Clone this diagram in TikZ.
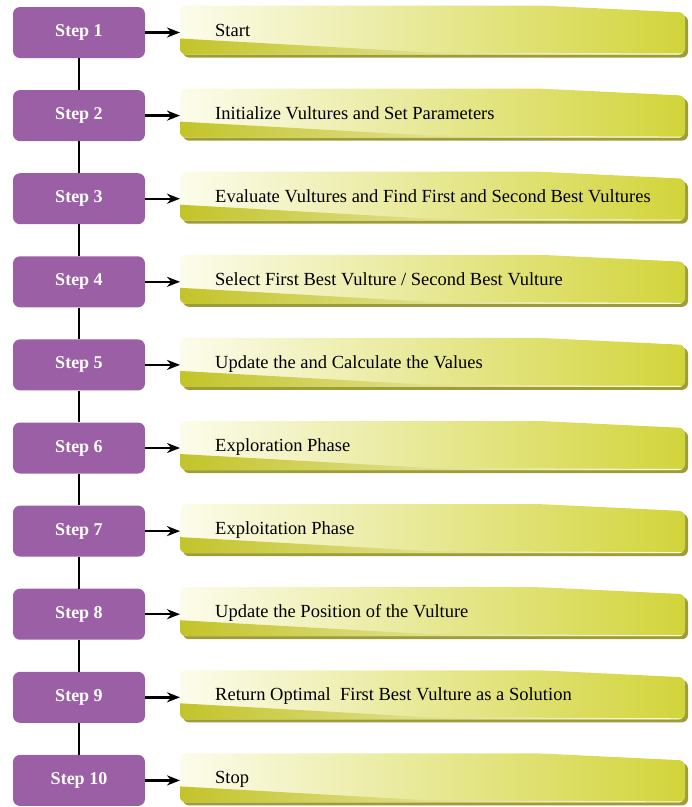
\documentclass[tikz,border=0pt]{standalone}
\usepackage{fontspec}
\setmainfont{Liberation Serif}
\newfontfamily\leaffont{Liberation Serif}
\usetikzlibrary{arrows.meta}
\definecolor{stepviolet}{HTML}{9B5FA6}
\definecolor{leafgreen}{HTML}{D2D43A}
\definecolor{leafband}{HTML}{C3C42A}
\definecolor{leafshadow}{HTML}{9E9D3A}
\definecolor{leaflight}{HTML}{FCFCEC}
\begin{document}
\begin{tikzpicture}[x=1pt,y=-1pt,every node/.style={inner sep=0pt},
	stepbox/.style={fill=stepviolet,rounded corners=7pt,minimum width=132pt,minimum height=51pt,text=white,font=\leaffont\fontsize{18}{20}\selectfont\bfseries},
	leaftext/.style={anchor=base west,font=\leaffont\fontsize{18.5}{20}\selectfont},
	steparrow/.style={-{Stealth[length=13pt,width=10pt]},line width=2.4pt}]
	\useasboundingbox (0,0) rectangle (692,807);
	\foreach \i/\txt in {1/Start,2/Initialize Vultures and Set Parameters,3/Evaluate Vultures and Find First and Second Best Vultures,4/{Select First Best Vulture / Second Best Vulture},5/Update the and Calculate the Values,6/Exploration Phase,7/Exploitation Phase,8/Update the Position of the Vulture,9/Return Optimal~~First Best Vulture as a Solution,10/Stop}{
		\pgfmathsetmacro\yy{32.5+83.1*(\i-1)}
		\begin{scope}[shift={(0,\yy)}]
			% leaf with shadow and slanted band
			\fill[leafshadow,rounded corners=6pt] (183,-24) -- (543,-24) -- (688,-17) -- (688,25) -- (183,25) -- cycle;
			\begin{scope}
				\clip[rounded corners=6pt] (180,-27) -- (540,-27) -- (685,-20) -- (685,22) -- (180,22) -- cycle;
				\shade[left color=leaflight,right color=leafgreen] (180,-28) rectangle (686,23);
				\shade[left color=leafband,right color=leaflight] (180,6) -- (430,20) -- (686,21) -- (686,23) -- (180,23) -- cycle;
			\end{scope}
			\node[stepbox] (s\i) at (79,0) {Step \i};
			\coordinate (b\i) at (180,0);
			\node[leaftext] (t\i) at (215,3.5) {\txt};
		\end{scope}
		\draw[steparrow] (s\i.east) -- (b\i);
	}
	\foreach \i [evaluate=\i as \j using int(\i+1)] in {1,...,9}
		\draw[line width=2.4pt] (s\i) -- (s\j);
\end{tikzpicture}
\end{document}
